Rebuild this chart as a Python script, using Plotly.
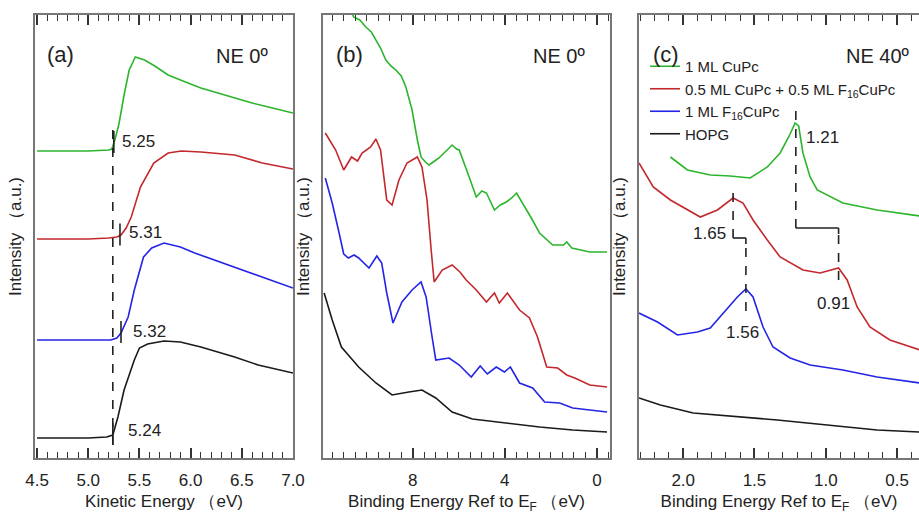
import numpy as np
import plotly.graph_objects as go

# ---------------- data ----------------
# Panel (a): secondary-electron cutoff, kinetic energy (eV) vs intensity (a.u.)
ke_green = [4.50, 5.00, 5.20, 5.23, 5.26, 5.30, 5.35, 5.40, 5.46, 5.55, 5.65, 5.78, 5.95, 6.10, 6.30, 6.43, 6.60, 6.80, 7.00]
int_a_green = [307, 307, 308, 309, 318, 334, 363, 388, 401, 398, 392, 383, 376, 370, 364, 360, 355, 350, 345]
ke_red = [4.50, 5.00, 5.20, 5.28, 5.32, 5.37, 5.42, 5.51, 5.64, 5.78, 5.91, 6.10, 6.43, 6.70, 7.00]
int_a_red = [219, 219, 220, 221, 223, 230, 241, 271, 295, 305, 307, 306, 303, 295, 289]
ke_blue = [4.50, 5.00, 5.22, 5.28, 5.32, 5.39, 5.45, 5.54, 5.62, 5.74, 5.90, 6.04, 6.43, 6.70, 7.00]
int_a_blue = [118, 118, 118, 120, 125, 141, 168, 201, 210, 215, 211, 205, 191, 181, 170]
ke_black = [4.50, 5.00, 5.18, 5.24, 5.29, 5.35, 5.45, 5.50, 5.58, 5.74, 5.90, 6.10, 6.43, 6.66, 7.00]
int_a_black = [20, 20, 21, 23, 41, 68, 98, 110, 114, 117, 116, 111, 101, 93, 85]
onsets = [5.25, 5.31, 5.32, 5.24]
onset_labels = ["5.25", "5.31", "5.32", "5.24"]

# Panel (b): valence band, binding energy (eV)
be_b_green = [10.65, 10.57, 10.3, 10.04, 9.8, 9.6, 9.4, 9.17, 8.95, 8.73, 8.5, 8.3, 8.03, 7.8, 7.64, 7.45, 7.29, 7.05, 6.86, 6.55, 6.29, 6.1, 5.98, 5.55, 5.24, 5.0, 4.8, 4.45, 4.2, 3.93, 3.7, 3.49, 3.23, 2.85, 2.49, 1.92, 1.45, 1.31, 1.09, 0.31, -0.44]
int_b_green = [446, 441, 438, 431, 426, 418, 410, 398, 392, 388, 382, 371, 348, 318, 301, 296, 293, 297, 300, 307, 313, 309, 308, 281, 261, 267, 265, 248, 253, 256, 260, 265, 255, 240, 225, 213, 213, 216, 210, 206, 206]
be_b_red = [11.8, 11.35, 11.0, 10.66, 10.4, 10.2, 9.83, 9.6, 9.4, 9.13, 8.9, 8.6, 8.25, 7.8, 7.6, 7.38, 7.2, 7.07, 6.72, 6.29, 5.95, 5.68, 5.24, 4.8, 4.45, 4.24, 3.89, 3.6, 3.36, 2.93, 2.58, 2.18, 1.7, 1.31, 0.96, 0.31, -0.44]
int_b_red = [325, 308, 288, 301, 297, 305, 311, 319, 308, 258, 253, 278, 295, 301, 291, 258, 208, 176, 188, 193, 186, 178, 168, 156, 165, 155, 165, 155, 148, 140, 121, 91, 90, 83, 80, 73, 71]
be_b_blue = [11.8, 11.5, 11.2, 11.0, 10.8, 10.55, 10.35, 9.9, 9.56, 9.35, 9.13, 8.86, 8.47, 8.03, 7.64, 7.42, 7.16, 7.0, 6.42, 5.98, 5.46, 5.07, 4.76, 4.37, 4.02, 3.76, 3.36, 2.79, 2.27, 1.62, 1.05, -0.44]
int_b_blue = [280, 255, 225, 204, 200, 203, 200, 190, 202, 195, 165, 135, 156, 168, 176, 161, 121, 98, 100, 93, 81, 92, 84, 91, 86, 91, 75, 70, 56, 55, 50, 46]
be_b_black = [11.85, 11.5, 11.1, 10.35, 9.6, 8.9, 8.17, 7.6, 7.0, 6.29, 5.41, 3.93, 2.49, 1.05, -0.44]
int_b_black = [165, 138, 111, 91, 75, 63, 66, 68, 60, 46, 39, 35, 31, 28, 26]

# Panel (c): near-EF region, NE 40 deg
be_c_green = [2.09, 1.97, 1.81, 1.67, 1.53, 1.41, 1.32, 1.26, 1.215, 1.19, 1.16, 1.11, 1.06, 0.88, 0.64, 0.34]
int_c_green = [301, 288, 283, 282, 280, 291, 305, 321, 335, 332, 305, 281, 268, 255, 248, 242]
be_c_red = [2.31, 2.21, 2.09, 1.97, 1.88, 1.76, 1.65, 1.58, 1.51, 1.41, 1.32, 1.16, 1.04, 0.91, 0.85, 0.78, 0.69, 0.55, 0.34]
int_c_red = [295, 271, 258, 248, 241, 248, 260, 255, 238, 218, 201, 188, 185, 190, 178, 151, 131, 118, 108]
be_c_blue = [2.31, 2.18, 2.04, 1.9, 1.81, 1.72, 1.62, 1.56, 1.51, 1.44, 1.37, 1.25, 1.11, 0.88, 0.64, 0.34]
int_c_blue = [145, 136, 123, 126, 130, 145, 161, 169, 161, 131, 111, 100, 93, 88, 81, 75]
be_c_black = [2.31, 2.16, 1.93, 1.58, 1.34, 0.99, 0.64, 0.34]
int_c_black = [60, 53, 45, 41, 38, 33, 28, 26]
peak_green = 1.21
peak_red = [1.65, 0.91]
peak_blue = 1.56

series_names = ["1 ML CuPc", "0.5 ML CuPc + 0.5 ML F<sub>16</sub>CuPc", "1 ML F<sub>16</sub>CuPc", "HOPG"]

# ---------------- styles ----------------
COLORS = ["#2cb52c", "#c3282c", "#2424e6", "#1a1a1a"]
FONT = "Liberation Sans, Arial, sans-serif"
TXT = "#222222"
W, H = 919, 514
top_px, bot_px = 15, 458
ydom = [1 - bot_px / H, 1 - top_px / H]
YR = [0, 443]

fig = go.Figure()

panels_a = [(ke_green, int_a_green), (ke_red, int_a_red), (ke_blue, int_a_blue), (ke_black, int_a_black)]
panels_b = [(be_b_green, int_b_green), (be_b_red, int_b_red), (be_b_blue, int_b_blue), (be_b_black, int_b_black)]
panels_c = [(be_c_green, int_c_green), (be_c_red, int_c_red), (be_c_blue, int_c_blue), (be_c_black, int_c_black)]

for i, (xx, yy) in enumerate(panels_a):
    fig.add_trace(go.Scatter(x=xx, y=yy, mode="lines", line=dict(color=COLORS[i], width=1.6),
                             showlegend=False, xaxis="x", yaxis="y", hoverinfo="skip"))
for i, (xx, yy) in enumerate(panels_b):
    fig.add_trace(go.Scatter(x=xx, y=yy, mode="lines", line=dict(color=COLORS[i], width=1.6),
                             showlegend=False, xaxis="x2", yaxis="y2", hoverinfo="skip"))
for i, (xx, yy) in enumerate(panels_c):
    fig.add_trace(go.Scatter(x=xx, y=yy, mode="lines", line=dict(color=COLORS[i], width=1.6),
                             name=series_names[i], showlegend=True, xaxis="x3", yaxis="y3", hoverinfo="skip"))

# ---------------- annotation marks ----------------
dash_style = dict(color="#222", width=1.6, dash="dash")
solid_style = dict(color="#222", width=1.6)

# panel a: onset markers
onset_vals = [float(np.interp(o, c[0], c[1])) for o, c in zip(onsets, panels_a)]
fig.add_shape(type="line", xref="x", yref="y", x0=onsets[3], x1=onsets[3],
              y0=onset_vals[3] - 10, y1=onset_vals[0] + 14, line=dash_style)
label_shift = [(6, 2), (7, 3), (10, 2), (13, 5)]
for o, v, lab, (dx, dy) in zip(onsets, onset_vals, onset_labels, label_shift):
    fig.add_shape(type="line", xref="x", yref="y", x0=o, x1=o, y0=v - 10, y1=v + 12, line=solid_style)
    fig.add_annotation(x=o, y=v, xref="x", yref="y", text=lab, showarrow=False, xanchor="left",
                       xshift=dx, yshift=dy, font=dict(size=17, color=TXT, family=FONT))

# panel c: peak markers
g_pk = float(np.interp(peak_green, be_c_green[::-1], int_c_green[::-1]))
r_pk = float(np.interp(peak_red[0], be_c_red[::-1], int_c_red[::-1]))
r_pk2 = float(np.interp(peak_red[1], be_c_red[::-1], int_c_red[::-1]))
b_pk = float(np.interp(peak_blue, be_c_blue[::-1], int_c_blue[::-1]))
bracket_g = 230
bracket_r = 220
fig.add_shape(type="line", xref="x3", yref="y3", x0=peak_green, x1=peak_green, y0=bracket_g, y1=g_pk + 15, line=dash_style)
fig.add_shape(type="line", xref="x3", yref="y3", x0=peak_green, x1=peak_red[1], y0=bracket_g, y1=bracket_g, line=solid_style)
fig.add_shape(type="line", xref="x3", yref="y3", x0=peak_red[1], x1=peak_red[1], y0=bracket_g, y1=bracket_g - 6, line=solid_style)
fig.add_shape(type="line", xref="x3", yref="y3", x0=peak_red[1], x1=peak_red[1], y0=r_pk2 - 12, y1=bracket_g - 6, line=dash_style)
fig.add_shape(type="line", xref="x3", yref="y3", x0=peak_red[0], x1=peak_red[0], y0=bracket_r, y1=r_pk + 12, line=dash_style)
fig.add_shape(type="line", xref="x3", yref="y3", x0=peak_red[0], x1=peak_blue, y0=bracket_r, y1=bracket_r, line=solid_style)
fig.add_shape(type="line", xref="x3", yref="y3", x0=peak_blue, x1=peak_blue, y0=bracket_r, y1=bracket_r - 6, line=solid_style)
fig.add_shape(type="line", xref="x3", yref="y3", x0=peak_blue, x1=peak_blue, y0=b_pk - 22, y1=bracket_r - 6, line=dash_style)

pk_labels = [
    (peak_green, g_pk, "1.21", "left", 8, -14),
    (peak_red[0], r_pk, "1.65", "right", -5, -35),
    (peak_blue, b_pk, "1.56", "center", -3, -43),
    (peak_red[1], r_pk2, "0.91", "center", -5, -35),
]
for x, y, t, xa, dx, dy in pk_labels:
    fig.add_annotation(x=x, y=y, xref="x3", yref="y3", text=t, showarrow=False, xanchor=xa,
                       xshift=dx, yshift=dy, font=dict(size=17, color=TXT, family=FONT))

# panel labels
for ax, lab, ne, lx, rx in [("x", "(a)", "NE 0º", 0.040, 0.91), ("x2", "(b)", "NE 0º", 0.040, 0.92),
                            ("x3", "(c)", "NE 40º", 0.044, 0.975)]:
    yref = ax.replace("x", "y") + " domain"
    fig.add_annotation(x=lx, y=0.944, xref=ax + " domain", yref=yref, text=lab, showarrow=False,
                       xanchor="left", font=dict(size=22, color=TXT, family=FONT))
    fig.add_annotation(x=rx, y=0.937, xref=ax + " domain", yref=yref, text=ne, showarrow=False,
                       xanchor="right", font=dict(size=20, color=TXT, family=FONT))

# ---------------- axes ----------------
def xaxis(dom, rng, dtick, minor, title, fmt, tick0=0):
    return dict(domain=dom, range=rng, dtick=dtick, tick0=tick0, tickformat=fmt, ticks="inside", ticklen=10,
                tickwidth=1.5, tickcolor="#333", showline=True, linecolor="#777", linewidth=1.5,
                mirror="allticks", showgrid=False, zeroline=False, ticklabelstandoff=6,
                minor=dict(dtick=minor, ticks="inside", ticklen=6, tickwidth=1.2, tickcolor="#333", showgrid=False),
                tickfont=dict(size=17, color=TXT, family=FONT),
                title=dict(text=title, font=dict(size=17, color=TXT, family=FONT), standoff=6))

def yaxis(dom, anchor, mirror):
    return dict(domain=dom, range=YR, anchor=anchor, showticklabels=False, ticks="", showline=True,
                linecolor="#777", linewidth=1.5, mirror=mirror, showgrid=False, zeroline=False,
                title=dict(text="Intensity （a.u.)", font=dict(size=17, color=TXT, family=FONT), standoff=7))

be_title = "Binding Energy Ref to E<sub>F</sub> （eV)"
fig.update_layout(
    width=W, height=H,
    margin=dict(l=0, r=0, t=0, b=0),
    paper_bgcolor="white", plot_bgcolor="white",
    font=dict(family=FONT, color=TXT),
    xaxis=xaxis([35 / W, 293 / W], [4.48, 7.0], 0.5, 0.1, "Kinetic Energy （eV)", ".1f", tick0=4.5),
    yaxis=yaxis(ydom, "x", True),
    xaxis2=xaxis([323 / W, 610 / W], [11.9, -0.57], 4, 0.5, be_title, "d"),
    yaxis2=yaxis(ydom, "x2", True),
    xaxis3=xaxis([639 / W, 1.0], [2.31, 0.346], 0.5, 0.1, be_title, ".1f"),
    yaxis3=yaxis(ydom, "x3", False),
    legend=dict(x=645 / W, y=1 - 50 / H, xanchor="left", yanchor="top", bgcolor="rgba(0,0,0,0)",
                font=dict(size=15, color=TXT, family=FONT), tracegroupgap=0, itemwidth=30),
)
for k in ["xaxis", "xaxis2", "xaxis3", "yaxis", "yaxis2", "yaxis3"]:
    fig.layout[k].automargin = False
fig.layout.xaxis.anchor = "y"
fig.layout.xaxis2.anchor = "y2"
fig.layout.xaxis3.anchor = "y3"

fig.write_html("out.html", config={"displayModeBar": False},
               post_script="document.body.style.margin='0';document.body.style.overflow='hidden';")
